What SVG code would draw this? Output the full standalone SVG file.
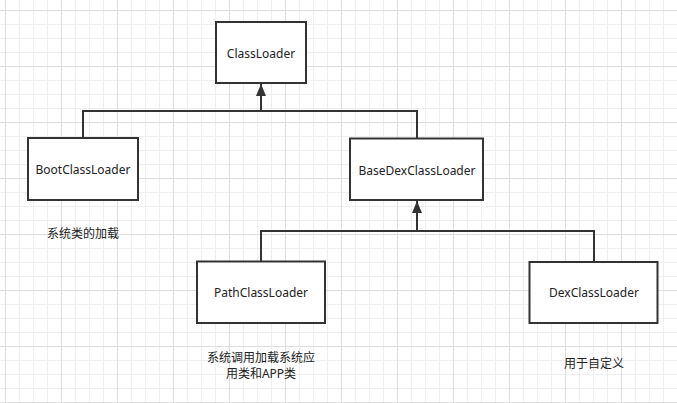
<svg xmlns="http://www.w3.org/2000/svg" width="677" height="403" viewBox="0 0 677 403">
<defs>
  <pattern id="minor" x="5" y="10" width="14" height="14" patternUnits="userSpaceOnUse">
    <path d="M0.5,0 V14 M0,0.5 H14" fill="none" stroke="#eeeeee" stroke-width="1"/>
  </pattern>
  <pattern id="major" x="5" y="10" width="56" height="56" patternUnits="userSpaceOnUse">
    <path d="M0.5,0 V56 M0,0.5 H56" fill="none" stroke="#dedede" stroke-width="1"/>
  </pattern>
  <marker id="arrow" viewBox="0 0 12 10" refX="12" refY="5" markerWidth="12" markerHeight="10" markerUnits="userSpaceOnUse" orient="auto">
    <path d="M0,0 L12,5 L0,10 Z" fill="#333333"/>
  </marker>
</defs>
<style>
  .box { fill: #ffffff; stroke: #333333; stroke-width: 2; }
  .edge { fill: none; stroke: #333333; stroke-width: 2; }
  .label { font-family: "Noto Sans", "Noto Sans CJK SC", sans-serif; font-size: 12px; fill: #222222; text-anchor: middle; dominant-baseline: central; }
</style>
<rect width="677" height="403" fill="#ffffff"/>
<rect width="677" height="403" fill="url(#minor)"/>
<rect width="677" height="403" fill="url(#major)"/>

<g id="connectors">
  <path class="edge" d="M83,138 V111 H261 V84" marker-end="url(#arrow)"/>
  <path class="edge" d="M417,138 V111 H261 V84"/>
  <path class="edge" d="M261,261 V231 H417 V201" marker-end="url(#arrow)"/>
  <path class="edge" d="M594,262 V231 H417 V201"/>
</g>

<g id="ClassLoader">
  <rect class="box" x="216" y="22" width="90" height="61"/>
  <text class="label" x="261" y="53">ClassLoader</text>
</g>
<g id="BootClassLoader">
  <rect class="box" x="28" y="138" width="110" height="62"/>
  <text class="label" x="83" y="169">BootClassLoader</text>
</g>
<g id="BaseDexClassLoader">
  <rect class="box" x="350" y="138.5" width="133" height="61.5"/>
  <text class="label" x="417" y="170">BaseDexClassLoader</text>
</g>
<g id="PathClassLoader">
  <rect class="box" x="197" y="261.5" width="128" height="61.5"/>
  <text class="label" x="261" y="292">PathClassLoader</text>
</g>
<g id="DexClassLoader">
  <rect class="box" x="529.5" y="262" width="128" height="61"/>
  <text class="label" x="594" y="292">DexClassLoader</text>
</g>
<g id="note-boot">
  <text class="label" x="83" y="233">系统类的加载</text>
</g>
<g id="note-path">
  <text class="label" x="261" y="357">系统调用加载系统应</text>
  <text class="label" x="261" y="373">用类和APP类</text>
</g>
<g id="note-dex">
  <text class="label" x="594" y="363">用于自定义</text>
</g>
</svg>
